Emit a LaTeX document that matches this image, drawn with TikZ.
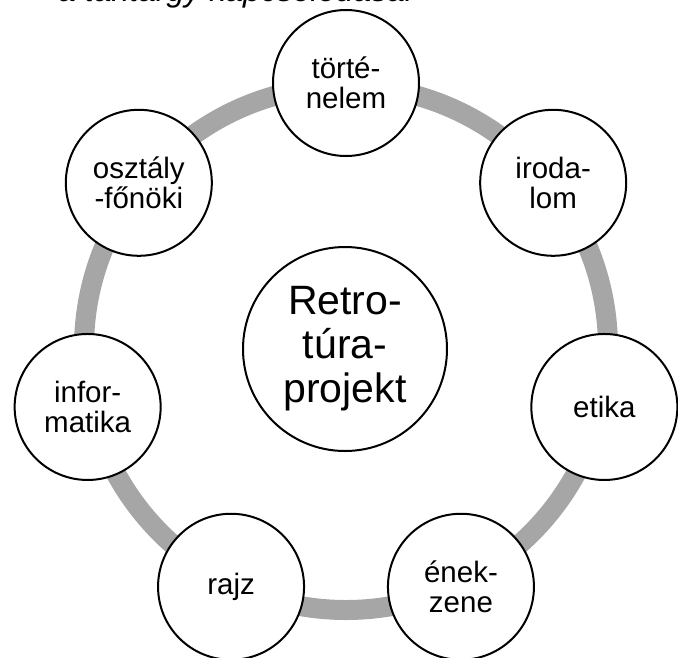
\documentclass[tikz,border=0pt]{standalone}
\usepackage{fontspec}
\setmainfont{Liberation Sans}
\usetikzlibrary{calc}
\definecolor{ringgray}{HTML}{A6A6A6}
\begin{document}
\begin{tikzpicture}[x=1pt,y=-1pt,
  topic/.style={circle,draw=black,line width=2pt,fill=white,minimum size=146pt,inner sep=0pt,align=center,font=\fontsize{29.5}{30}\selectfont},
  hub/.style={circle,draw=black,line width=2pt,fill=white,minimum size=204pt,inner sep=0pt,align=center,font=\fontsize{41}{44}\selectfont},
  ring/.style={line width=20pt,draw=ringgray}]
\useasboundingbox (0,0) rectangle (678,657);
\clip (0,0) rectangle (678,657);
\coordinate (c) at (346,348);
\node[anchor=base west,font=\fontsize{32}{32}\selectfont\itshape,inner sep=0pt] (title) at (58,1) {a tantárgy kapcsolódásai};
\draw[ring] (c) circle[radius=262pt];
\node[hub] (hub) at (345,349) {Retro-\\túra-\\projekt};
\node[topic] (t1) at ($(c)+(90:265pt)$) {törté-\\nelem};
\node[topic] (t2) at ($(c)+(38.57:265pt)$) {iroda-\\lom};
\node[topic] (t3) at ($(c)+(-12.86:265pt)$) {etika};
\node[topic] (t4) at ($(c)+(-64.29:265pt)$) {ének-\\zene};
\node[topic] (t5) at ($(c)+(-115.71:265pt)$) {rajz};
\node[topic] (t6) at ($(c)+(-167.14:265pt)$) {infor-\\matika};
\node[topic] (t7) at ($(c)+(141.43:265pt)$) {osztály\\-főnöki};
\end{tikzpicture}
\end{document}
